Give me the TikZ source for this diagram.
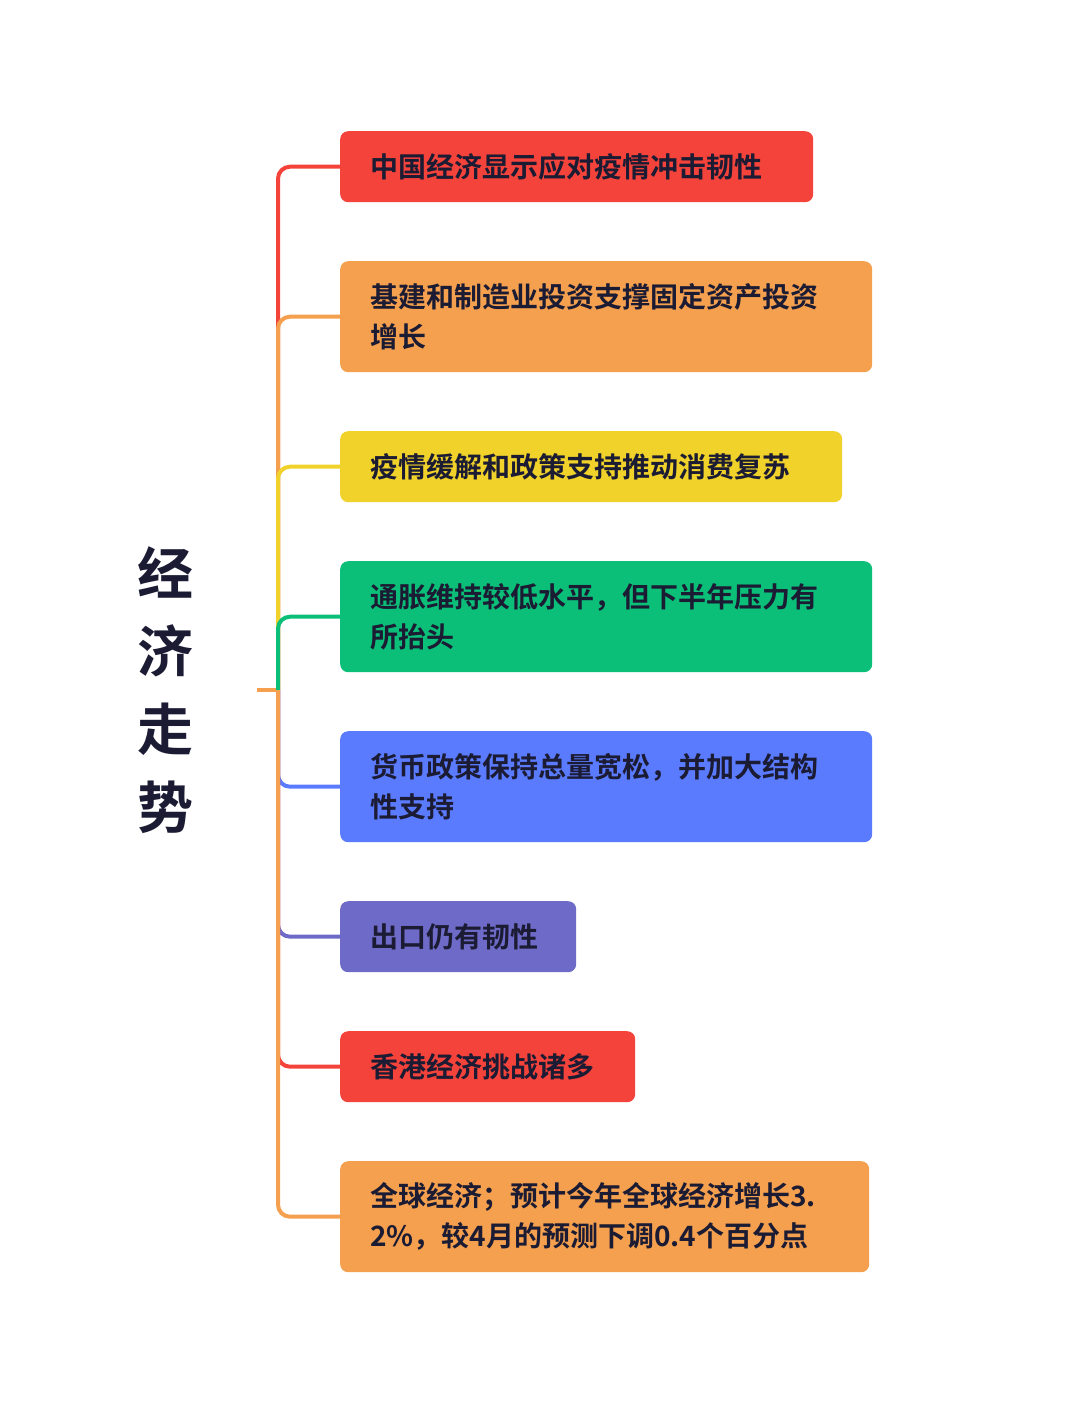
\documentclass[tikz,border=0pt]{standalone}
\usepackage{fontspec}
\newfontfamily\cjk{Noto Sans CJK SC}[BoldFont={* Bold}]
\usetikzlibrary{positioning}
\definecolor{cred}{HTML}{F4433B}
\definecolor{corange}{HTML}{F4A04F}
\definecolor{cyellow}{HTML}{F0D22A}
\definecolor{cgreen}{HTML}{0BBF79}
\definecolor{cblue}{HTML}{5B7BFF}
\definecolor{cpurple}{HTML}{6E6BC8}
\definecolor{ctext}{HTML}{1B1B33}
\tikzset{
  item/.style={fill=#1, rounded corners=8pt, anchor=north west, inner xsep=30pt,
    inner ysep=0pt, align=left, font=\cjk\bfseries\fontsize{28}{40}\selectfont,
    text=ctext},
  branch/.style={draw=#1, line width=4pt, rounded corners=12pt}
}
\begin{document}
\begin{tikzpicture}[x=1pt,y=-1pt]
  \useasboundingbox (0,0) rectangle (1080,1412);

  % title
  \node[font=\cjk\bfseries\fontsize{56}{78}\selectfont, text=ctext, align=center] (title)
    at (165,690) {经\\济\\走\\势};
  \coordinate (hub) at (278,690);
  \draw[corange, line width=4pt] (257,690) -- (hub);

  % items
  \node[item=cred, text width=413pt, minimum height=71pt] (b1) at (340,131) {中国经济显示应对疫情冲击韧性};
  \node[item=corange, text width=472pt, minimum height=111pt] (b2) at (340,261) {基建和制造业投资支撑固定资产投资\\增长};
  \node[item=cyellow, text width=442pt, minimum height=71pt] (b3) at (340,431) {疫情缓解和政策支持推动消费复苏};
  \node[item=cgreen, text width=472pt, minimum height=111pt] (b4) at (340,561) {通胀维持较低水平，但下半年压力有\\所抬头};
  \node[item=cblue, text width=472pt, minimum height=111pt] (b5) at (340,731) {货币政策保持总量宽松，并加大结构\\性支持};
  \node[item=cpurple, text width=176pt, minimum height=71pt] (b6) at (340,901) {出口仍有韧性};
  \node[item=cred, text width=235pt, minimum height=71pt] (b7) at (340,1031) {香港经济挑战诸多};
  \node[item=corange, text width=469pt, minimum height=111pt] (b8) at (340,1161) {全球经济；预计今年全球经济增长3.\\2\%，较4月的预测下调0.4个百分点};

  % connectors
  \draw[branch=cred] (hub) |- (b1.west);
  \draw[branch=corange] (hub) |- (b2.west);
  \draw[branch=cyellow] (hub) |- (b3.west);
  \draw[branch=cgreen] (hub) |- (b4.west);
  \draw[branch=cblue] (hub) |- (b5.west);
  \draw[branch=cpurple] (hub) |- (b6.west);
  \draw[branch=cred] (hub) |- (b7.west);
  \draw[branch=corange] (hub) |- (b8.west);
\end{tikzpicture}
\end{document}
